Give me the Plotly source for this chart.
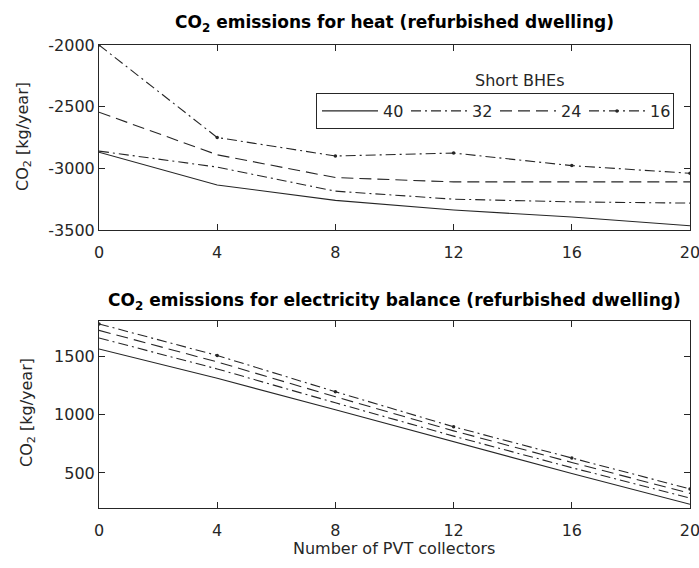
import plotly.graph_objects as go

x_pvt = [0, 4, 8, 12, 16, 20]
bhe_labels = ["40", "32", "24", "16"]

heat_40 = [-2870, -3135, -3260, -3338, -3395, -3465]
heat_32 = [-2860, -2990, -3185, -3250, -3272, -3282]
heat_24 = [-2545, -2890, -3075, -3110, -3110, -3110]
heat_16 = [-2000, -2750, -2900, -2876, -2978, -3040]

elec_40 = [1560, 1310, 1040, 765, 495, 232]
elec_32 = [1655, 1390, 1100, 815, 545, 285]
elec_24 = [1720, 1450, 1152, 860, 590, 325]
elec_16 = [1775, 1505, 1195, 895, 628, 363]

heat_series = [heat_40, heat_32, heat_24, heat_16]
elec_series = [elec_40, elec_32, elec_24, elec_16]

dashes = ["solid", "10px,4px,2px,4px", "12px,6px", "10px,4px,2px,4px"]
modes = ["lines", "lines", "lines", "lines+markers"]
line_color = "#262626"
FONT = "DejaVu Sans"

W, H = 699, 568
fig = go.Figure()


def px_x(p):
    return p / W


def px_y(p):
    return 1 - p / H


for i, (lab, ys) in enumerate(zip(bhe_labels, heat_series)):
    fig.add_trace(go.Scatter(
        x=x_pvt, y=ys, mode=modes[i], name=lab,
        line=dict(color=line_color, width=1.1, dash=dashes[i]),
        marker=dict(size=3.5, color=line_color),
        xaxis="x", yaxis="y", showlegend=True))
for i, (lab, ys) in enumerate(zip(bhe_labels, elec_series)):
    fig.add_trace(go.Scatter(
        x=x_pvt, y=ys, mode=modes[i], name=lab,
        line=dict(color=line_color, width=1.1, dash=dashes[i]),
        marker=dict(size=3.5, color=line_color),
        xaxis="x2", yaxis="y2", showlegend=False))

axis_common = dict(showline=True, linecolor=line_color, linewidth=1, mirror="ticks",
                   ticks="inside", ticklen=6, tickcolor=line_color, showgrid=False,
                   zeroline=False, automargin=False, ticklabeloverflow="allow",
                   tickfont=dict(family=FONT, size=16, color="#262626"))
x_extra = dict(ticklabelstandoff=8)

xdom = [px_x(99), px_x(690)]
fig.update_layout(
    template="none",
    width=W, height=H, margin=dict(l=0, r=0, t=0, b=0, pad=0),
    paper_bgcolor="white", plot_bgcolor="white",
    font=dict(family=FONT, color="#262626"),
    xaxis=dict(domain=xdom, range=[0, 20], tickvals=x_pvt, anchor="y", **axis_common, **x_extra),
    yaxis=dict(domain=[px_y(230), px_y(45)], range=[-3500, -2000],
               tickvals=[-3500, -3000, -2500, -2000],
               ticktext=["-3500", "-3000", "-2500", "-2000"], anchor="x", **axis_common),
    xaxis2=dict(domain=xdom, range=[0, 20], tickvals=x_pvt, anchor="y2", **axis_common, **x_extra),
    yaxis2=dict(domain=[px_y(508), px_y(321)], range=[200, 1800], tickvals=[500, 1000, 1500],
                anchor="x2", **axis_common),
    legend=dict(orientation="h", x=px_x(316), xanchor="left", y=px_y(93), yanchor="top",
                bordercolor=line_color, borderwidth=1, bgcolor="white",
                font=dict(family=FONT, size=16, color="#262626"),
                itemwidth=56, entrywidth=18, entrywidthmode="pixels", tracegroupgap=0),
    showlegend=True,
)


def ann(text, x, y, size, angle=0, color="#262626"):
    fig.add_annotation(text=text, x=px_x(x), y=px_y(y), xref="paper", yref="paper",
                       xanchor="center", yanchor="middle", showarrow=False, textangle=angle,
                       font=dict(family=FONT, size=size, color=color))


ann("<b>CO<sub>2</sub> emissions for heat (refurbished dwelling)</b>", 394, 23, 17, color="black")
ann("<b>CO<sub>2</sub> emissions for electricity balance (refurbished dwelling)</b>", 394, 301, 17, color="black")
ann("Short BHEs", 519, 81, 16)
ann("CO<sub>2</sub> [kg/year]", 24, 137, 16, angle=-90)
ann("CO<sub>2</sub> [kg/year]", 27, 413, 16, angle=-90)
ann("Number of PVT collectors", 394, 548, 16)

fig.write_html("out.html")
